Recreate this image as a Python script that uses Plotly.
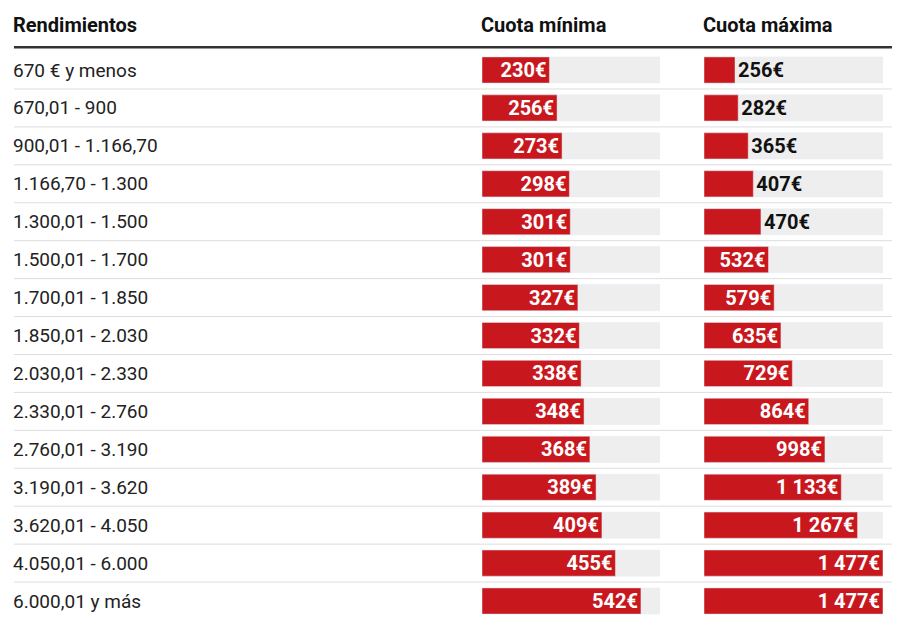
import plotly.graph_objects as go

rendimientos = ["670 € y menos","670,01 - 900","900,01 - 1.166,70","1.166,70 - 1.300","1.300,01 - 1.500",
"1.500,01 - 1.700","1.700,01 - 1.850","1.850,01 - 2.030","2.030,01 - 2.330","2.330,01 - 2.760",
"2.760,01 - 3.190","3.190,01 - 3.620","3.620,01 - 4.050","4.050,01 - 6.000","6.000,01 y más"]
cuota_min = [230,256,273,298,301,301,327,332,338,348,368,389,409,455,542]
cuota_max = [256,282,365,407,470,532,579,635,729,864,998,1133,1267,1477,1477]
max_min = 607
max_max = 1477
headers = ["Rendimientos","Cuota mínima","Cuota máxima"]

RED = "#c8181e"; GREY = "#eeeeee"
W, H, OFF = 892, 623, 8
n = len(rendimientos)
ys = list(range(n))
def fmt(v):
    return f"{v:,}".replace(",", " ") + "€"
def px(x):
    return (x - OFF) / W

fig = go.Figure()
for vals, mx, xa, thresh in [(cuota_min, max_min, "x", 0), (cuota_max, max_max, "x2", 500)]:
    fig.add_bar(x=[mx]*n, y=ys, orientation="h", marker_color=GREY, xaxis=xa, yaxis="y",
                hoverinfo="skip", showlegend=False)
    pos = ["inside" if v >= thresh else "outside" for v in vals]
    cols = ["white" if p == "inside" else "#111" for p in pos]
    fig.add_bar(x=vals, y=ys, orientation="h", marker_color=RED, xaxis=xa, yaxis="y",
                text=[fmt(v) for v in vals], textposition=pos, insidetextanchor="end",
                textfont=dict(family="Roboto", size=20, color=cols, weight="bold"),
                cliponaxis=False, showlegend=False)

ann = []
for i, r in enumerate(rendimientos):
    ann.append(dict(x=px(14), y=i, xref="paper", yref="y", text=r, showarrow=False,
                    xanchor="left", xshift=-3, font=dict(family="Roboto", size=19, color="#222")))
for h, xp in zip(headers, [14, 482, 704]):
    ann.append(dict(x=px(xp), y=-1.2, xref="paper", yref="y", text=f"<b>{h}</b>", showarrow=False,
                    xanchor="left", xshift=-3, font=dict(family="Roboto", size=20, color="#111")))
shapes = [dict(type="line", xref="paper", yref="y", x0=px(14), x1=1, y0=-0.6, y1=-0.6,
               line=dict(color="#333", width=2.5))]
for k in range(n-1):
    shapes.append(dict(type="line", xref="paper", yref="y", x0=px(14), x1=1, y0=k+0.5, y1=k+0.5,
                       line=dict(color="#dddddd", width=1), layer="below"))

fig.update_layout(
    width=W, height=H, margin=dict(l=0, r=0, t=0, b=0),
    paper_bgcolor="white", plot_bgcolor="white", barmode="overlay", bargap=0.31,
    xaxis=dict(domain=[px(482), px(660)], range=[0, max_min], visible=False),
    xaxis2=dict(domain=[px(704), px(883)], range=[0, max_max], visible=False, anchor="y"),
    yaxis=dict(range=[14.79, -1.635], visible=False),
    annotations=ann, shapes=shapes,
    uniformtext=dict(minsize=20, mode="show"),
)
fig.write_html("out.html")
